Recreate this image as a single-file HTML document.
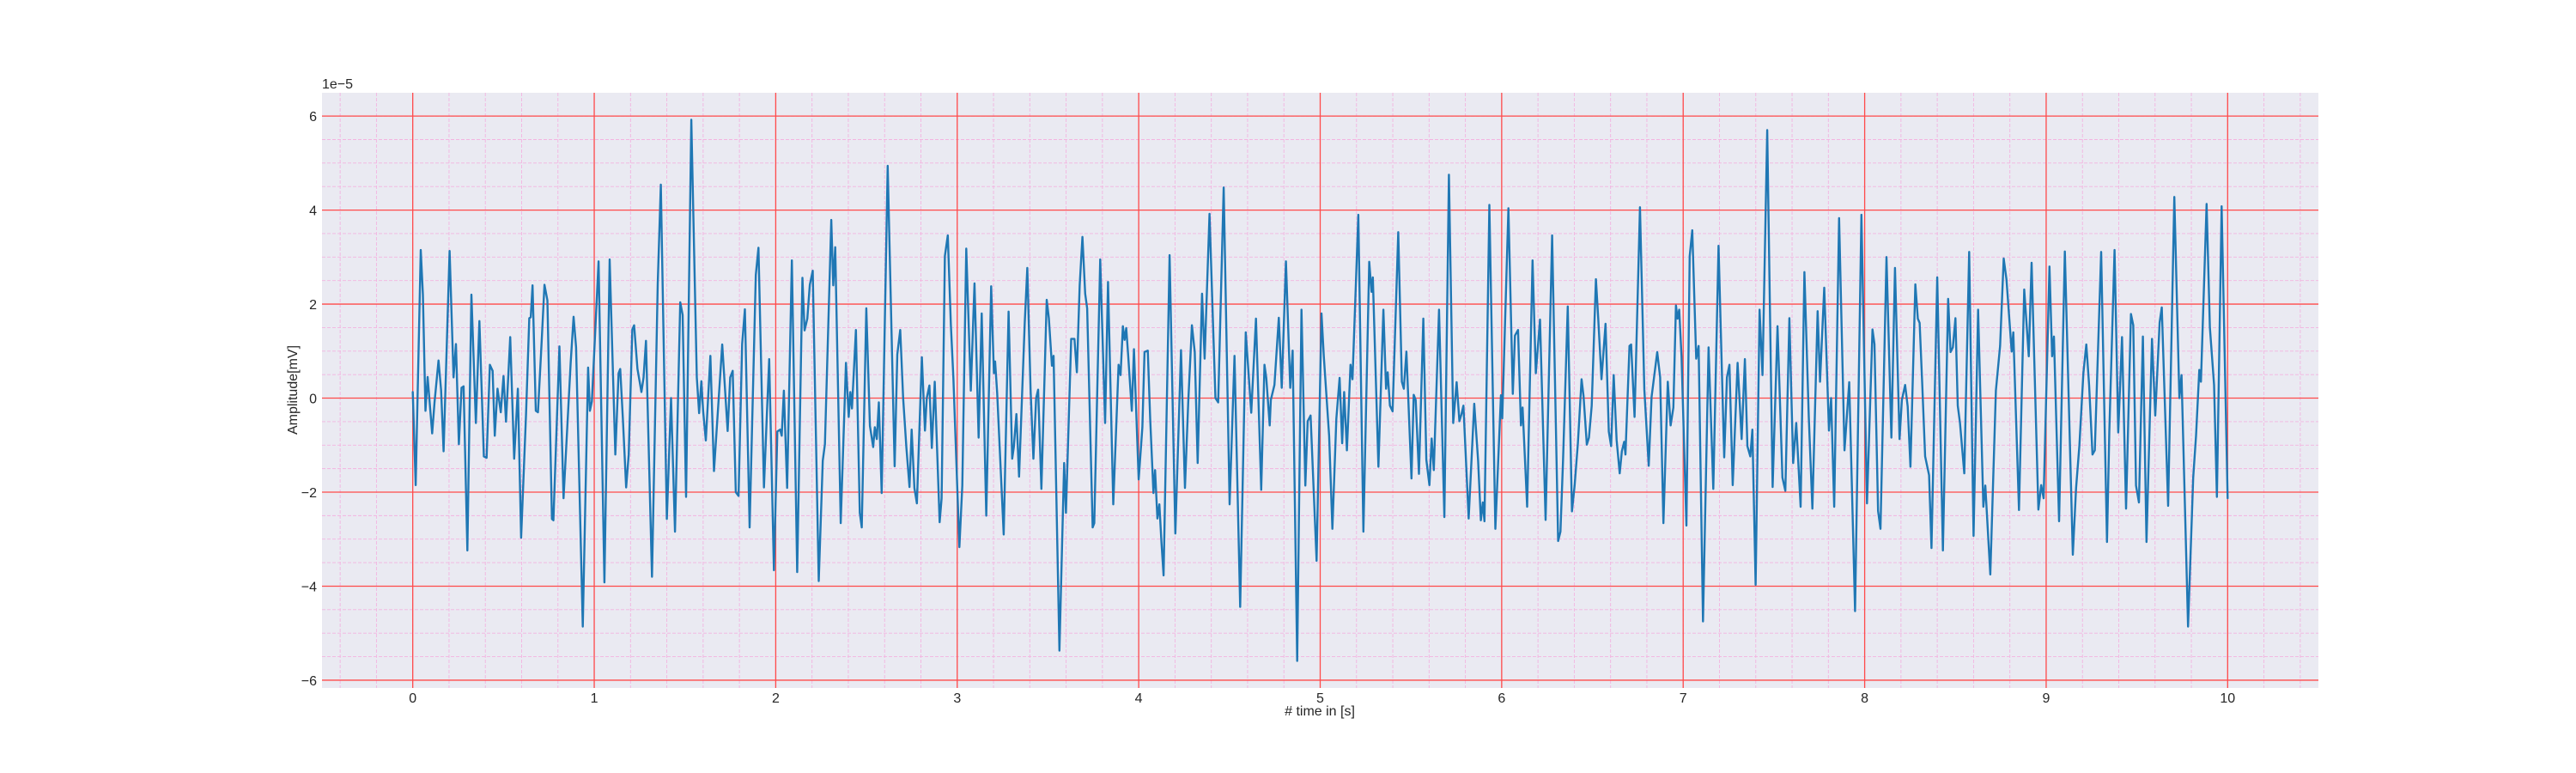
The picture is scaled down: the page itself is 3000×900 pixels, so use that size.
<!DOCTYPE html>
<html><head><meta charset="utf-8">
<style>
html,body{margin:0;padding:0;background:#fff;}
svg{display:block;font-family:"Liberation Sans",Arial,sans-serif;}
</style></head>
<body>
<svg id="chart" width="3000" height="900" viewBox="0 0 3000 900" xmlns="http://www.w3.org/2000/svg">
<rect x="0" y="0" width="3000" height="900" fill="#ffffff"/>
<rect x="375" y="108" width="2325" height="693" fill="#eaeaf2"/>
<g id="minor-grid"></g>
<g id="major-grid"></g>
<g id="series"></g>
<g id="xticks"></g>
<g id="yticks"></g>
<text x="1537" y="833" text-anchor="middle" font-size="16" fill="#262626"># time in [s]</text>
<text x="0" y="0" transform="translate(346,454) rotate(-90)" text-anchor="middle" font-size="16" fill="#262626">Amplitude[mV]</text>
<text x="375" y="103" font-size="16" fill="#262626">1e−5</text>
</svg>
<script>
const times = [0,0.016,0.044,0.056,0.07,0.082,0.107,0.12,0.142,0.156,0.17,0.203,0.225,0.238,0.254,0.269,0.28,0.301,0.323,0.348,0.367,0.392,0.407,0.425,0.44,0.452,0.467,0.485,0.5,0.514,0.537,0.559,0.579,0.597,0.624,0.642,0.65,0.66,0.678,0.69,0.71,0.726,0.742,0.767,0.775,0.808,0.831,0.87,0.886,0.9,0.937,0.966,0.976,0.987,1.024,1.056,1.085,1.116,1.134,1.143,1.158,1.176,1.19,1.21,1.22,1.238,1.26,1.272,1.285,1.318,1.35,1.367,1.4,1.423,1.445,1.474,1.487,1.506,1.535,1.565,1.578,1.59,1.6,1.615,1.64,1.66,1.705,1.735,1.749,1.763,1.78,1.795,1.815,1.83,1.856,1.89,1.905,1.935,1.951,1.964,1.99,2.009,2.024,2.033,2.045,2.063,2.089,2.118,2.147,2.159,2.174,2.188,2.204,2.237,2.259,2.271,2.306,2.317,2.328,2.358,2.387,2.402,2.411,2.42,2.442,2.463,2.474,2.499,2.519,2.537,2.546,2.557,2.568,2.584,2.617,2.655,2.67,2.686,2.702,2.72,2.737,2.749,2.764,2.778,2.805,2.822,2.832,2.847,2.86,2.876,2.903,2.914,2.932,2.948,2.965,2.979,3.012,3.028,3.05,3.075,3.095,3.118,3.135,3.16,3.187,3.202,3.209,3.22,3.256,3.283,3.303,3.312,3.326,3.341,3.372,3.386,3.404,3.42,3.435,3.446,3.464,3.493,3.505,3.522,3.531,3.563,3.589,3.599,3.628,3.646,3.659,3.675,3.69,3.705,3.716,3.746,3.755,3.788,3.815,3.831,3.86,3.889,3.9,3.913,3.922,3.931,3.942,3.962,3.974,4.0,4.02,4.032,4.05,4.063,4.081,4.09,4.103,4.114,4.125,4.137,4.17,4.202,4.233,4.255,4.273,4.293,4.309,4.325,4.349,4.363,4.39,4.41,4.423,4.438,4.468,4.501,4.528,4.559,4.59,4.62,4.646,4.675,4.693,4.703,4.722,4.728,4.748,4.772,4.788,4.811,4.835,4.848,4.873,4.897,4.918,4.931,4.947,4.98,5.007,5.02,5.049,5.067,5.089,5.107,5.121,5.132,5.147,5.167,5.178,5.21,5.238,5.27,5.283,5.29,5.321,5.348,5.363,5.372,5.384,5.399,5.43,5.45,5.461,5.475,5.503,5.515,5.526,5.544,5.568,5.585,5.602,5.614,5.626,5.655,5.684,5.709,5.733,5.752,5.767,5.778,5.789,5.818,5.849,5.87,5.885,5.896,5.905,5.932,5.965,5.996,6.003,6.037,6.061,6.073,6.09,6.106,6.115,6.14,6.17,6.188,6.211,6.242,6.278,6.311,6.324,6.338,6.364,6.387,6.402,6.42,6.44,6.451,6.469,6.481,6.496,6.519,6.532,6.55,6.572,6.59,6.603,6.617,6.633,6.65,6.662,6.675,6.682,6.704,6.713,6.732,6.762,6.786,6.81,6.826,6.857,6.873,6.891,6.915,6.931,6.946,6.96,6.969,6.978,6.991,7.018,7.036,7.05,7.072,7.085,7.109,7.14,7.166,7.195,7.226,7.241,7.255,7.273,7.3,7.322,7.34,7.354,7.37,7.381,7.399,7.421,7.437,7.463,7.493,7.52,7.547,7.563,7.585,7.606,7.623,7.647,7.668,7.692,7.712,7.741,7.754,7.777,7.803,7.815,7.832,7.859,7.889,7.915,7.947,7.982,8.013,8.043,8.054,8.074,8.087,8.12,8.147,8.167,8.192,8.205,8.223,8.237,8.252,8.279,8.293,8.303,8.317,8.333,8.355,8.368,8.4,8.431,8.46,8.473,8.486,8.5,8.513,8.525,8.549,8.576,8.6,8.625,8.654,8.665,8.692,8.723,8.746,8.766,8.781,8.81,8.819,8.85,8.879,8.904,8.92,8.957,8.973,8.986,9.018,9.033,9.043,9.071,9.103,9.147,9.165,9.183,9.205,9.221,9.237,9.255,9.268,9.303,9.335,9.348,9.377,9.397,9.418,9.44,9.467,9.48,9.495,9.511,9.533,9.553,9.583,9.601,9.625,9.637,9.672,9.706,9.734,9.746,9.782,9.81,9.826,9.844,9.853,9.884,9.902,9.925,9.941,9.967,10.0];
const values = [0.13,-1.85,3.15,2.2,-0.27,0.45,-0.75,-0.1,0.8,0.17,-1.13,3.13,0.44,1.15,-0.98,0.22,0.25,-3.24,2.2,-0.53,1.64,-1.24,-1.27,0.71,0.58,-0.8,0.2,-0.3,0.47,-0.5,1.3,-1.29,0.2,-2.97,-0.35,1.7,1.72,2.4,-0.27,-0.3,1.2,2.41,2.08,-2.57,-2.6,1.1,-2.13,0.75,1.73,1.08,-4.86,0.65,-0.27,-0.07,2.91,-3.92,2.95,-1.2,0.53,0.62,-0.44,-1.9,-1.2,1.46,1.55,0.62,0.13,0.44,1.22,-3.8,2.44,4.54,-2.57,0,-2.84,2.04,1.77,-2.1,5.92,0.44,-0.32,0.36,-0.28,-0.9,0.9,-1.55,1.14,-0.7,0.44,0.58,-2.0,-2.08,1.15,1.89,-2.75,2.62,3.2,-1.9,-0.35,0.83,-3.66,-0.71,-0.67,-0.8,0.16,-1.91,2.93,-3.7,2.56,1.44,1.69,2.41,2.71,-3.89,-1.33,-0.98,3.79,2.4,3.21,-2.66,0.75,-0.4,0.13,-0.22,1.45,-2.44,-2.75,1.91,-0.59,-1.04,-0.62,-0.87,-0.09,-2.02,4.94,-1.45,0.93,1.45,0,-1.06,-1.89,-0.67,-1.91,-2.24,0.87,-0.69,0,0.27,-1.06,0.35,-2.64,-2.13,3.02,3.46,1.55,0.43,-3.17,-1.86,3.18,0.16,2.44,-0.84,1.8,-2.5,2.38,0.53,0.78,0.11,-2.9,1.84,-1.29,-1.04,-0.34,-1.67,1.6,2.77,0.18,-1.29,0,0.18,-1.93,2.09,1.7,0.69,0.9,-5.37,-1.38,-2.44,1.26,1.26,0.55,2.4,3.43,2.22,1.91,-2.75,-2.66,2.95,-0.53,2.47,-2.26,0.71,0.49,1.53,1.24,1.49,0.9,-0.27,1.04,-1.73,-0.62,0.98,1.01,-0.44,-2.02,-1.53,-2.56,-2.26,-3.06,-3.77,3.04,-2.88,1.02,-1.91,-0.09,1.55,0.98,-1.38,2.22,0.84,3.92,1.51,0,-0.09,4.48,-2.26,0.9,-4.44,1.4,-0.31,1.69,-1.95,0.71,0.43,-0.58,-0.04,0.28,1.71,0.22,2.91,0.22,1.01,-5.59,1.88,-1.86,-0.49,-0.37,-3.46,1.8,0.89,-0.8,-2.78,-0.44,0.43,-0.96,0.13,-1.11,0.71,0.4,3.9,-2.84,2.9,2.26,2.57,-1.46,1.88,0.2,0.55,-0.16,-0.28,3.53,0.35,0.2,0.99,-1.71,0.07,-0.04,-1.61,1.69,-1.31,-1.85,-0.86,-1.53,1.88,-2.53,4.75,-0.53,0.34,-0.49,-0.35,-0.16,-2.56,-0.12,-1.33,-2.6,-2.22,-2.62,4.11,-2.78,0.06,-0.43,4.04,0.09,1.33,1.45,-0.58,-0.2,-2.31,2.93,0.53,1.67,-2.59,3.46,-3.04,-2.84,-1.33,1.95,-2.41,-1.86,-0.96,0.4,0.04,-0.99,-0.84,-0.16,2.53,1.69,0.4,1.58,-0.71,-1.02,0.49,-0.89,-1.6,-1.13,-0.93,-1.2,1.11,1.14,-0.4,4.06,0.18,-1.44,0.02,0.98,0.44,-2.66,0.35,-0.58,-0.2,1.97,1.69,1.88,0.89,-2.71,3.02,3.57,0.84,1.11,-4.75,1.08,-1.93,3.24,-1.26,0.44,0.71,-1.85,0.75,-0.87,0.83,-1.02,-1.24,-0.67,-3.97,1.88,0.49,5.7,-1.89,1.53,-1.69,-1.97,1.7,-1.38,-0.53,-2.31,2.68,-0.4,-2.35,1.85,0.35,2.35,-0.69,0,-2.31,3.83,-1.11,0.34,-4.53,3.9,-2.24,1.46,1.15,-2.4,-2.78,3.0,-0.84,2.77,-0.87,-0.04,0.28,-0.18,-1.46,2.42,1.69,1.6,0.31,-1.24,-1.64,-3.19,2.57,-3.24,2.11,0.98,1.08,1.7,-0.16,-0.53,-1.6,3.11,-2.93,1.88,-2.31,-1.86,-3.75,0.16,1.11,2.97,2.53,0.99,1.4,-2.38,2.31,0.89,2.88,-2.37,-1.85,-2.13,2.8,0.89,1.31,-2.62,3.12,-3.33,-1.91,-1.02,0.53,1.14,0.27,-1.2,-1.11,3.11,-3.06,-0.71,3.15,-0.73,1.3,-2.35,1.79,1.55,-1.86,-2.22,1.31,-3.06,1.26,-0.37,1.61,1.93,-2.29,4.28,0,0.49,-4.86,-1.69,-0.8,0.6,0.35,4.13,1.51,0.28,-2.1,4.08,-2.13];
const xTickLabels = ["0","1","2","3","4","5","6","7","8","9","10"];
const yTickLabels = ["−6","−4","−2","0","2","4","6"];

const NS = "http://www.w3.org/2000/svg";
const L = 375, R = 2700, T = 108, B = 801;
const tMin = Math.min(...times), tMax = Math.max(...times);
const vMin = Math.min(...values), vMax = Math.max(...values);
const xPad = (tMax - tMin) * 0.05, yPad = (vMax - vMin) * 0.05;
const x0 = tMin - xPad, x1 = tMax + xPad, y0 = vMin - yPad, y1 = vMax + yPad;
function xs(t){ return L + (t - x0) / (x1 - x0) * (R - L); }
function ys(v){ return B - (v - y0) / (y1 - y0) * (B - T); }
function mk(tag, attrs, parent){ const e = document.createElementNS(NS, tag); for (const k in attrs) e.setAttribute(k, attrs[k]); parent.appendChild(e); return e; }

const minorG = document.getElementById('minor-grid');
for (let t = Math.ceil(x0 / 0.2) * 0.2; t <= x1; t += 0.2) {
  const X = xs(t);
  const ln = mk('line', {x1: X, x2: X, y1: T, y2: B, stroke: '#f3b4e0', 'stroke-width': 0.9, 'stroke-dasharray': '4,2'}, minorG);
  
  
}
for (let v = Math.ceil(y0 / 0.5) * 0.5; v <= y1; v += 0.5) {
  const Y = ys(v);
  const ln = mk('line', {x1: L, x2: R, y1: Y, y2: Y, stroke: '#f3b4e0', 'stroke-width': 0.9, 'stroke-dasharray': '4,2'}, minorG);
  
  
}
const majorG = document.getElementById('major-grid');
const xtG = document.getElementById('xticks');
xTickLabels.forEach(function(lab){
  const t = parseFloat(lab);
  const X = xs(t);
  const ln = mk('line', {x1: X, x2: X, y1: T, y2: B, stroke: '#ff4a4a', 'stroke-width': 1.3}, majorG);
  
  
  const tx = mk('text', {x: X, y: 818, 'text-anchor': 'middle', 'font-size': 16, fill: '#262626'}, xtG);
  tx.textContent = lab;
  
  
});
const ytG = document.getElementById('yticks');
yTickLabels.forEach(function(lab){
  const v = parseFloat(lab.replace('−', '-'));
  const Y = ys(v);
  const ln = mk('line', {x1: L, x2: R, y1: Y, y2: Y, stroke: '#ff4a4a', 'stroke-width': 1.3}, majorG);
  
  
  const tx = mk('text', {x: 369, y: Y + 6, 'text-anchor': 'end', 'font-size': 16, fill: '#262626'}, ytG);
  tx.textContent = lab;
  
  
});
const sG = document.getElementById('series');
let d = '';
times.forEach(function(t, i){ d += (i ? 'L' : 'M') + xs(t).toFixed(1) + ' ' + ys(values[i]).toFixed(1); });
const path = mk('path', {d: d, fill: 'none', stroke: '#1f77b4', 'stroke-width': 2.4, 'stroke-linejoin': 'round', 'stroke-linecap': 'round'}, sG);


</script>
</body></html>
